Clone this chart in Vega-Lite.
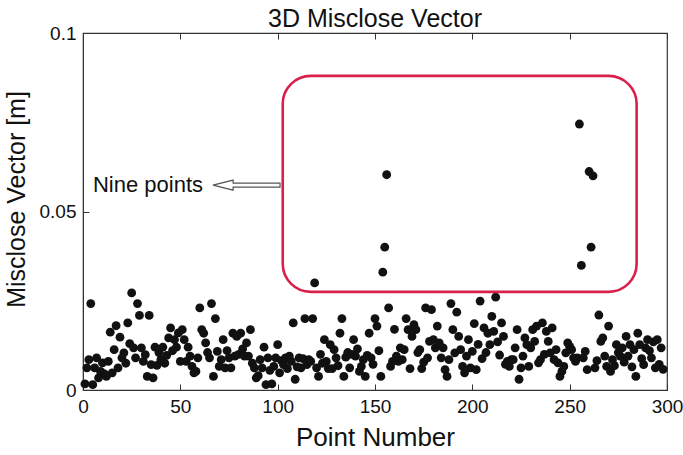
{
  "$schema": "https://vega.github.io/schema/vega-lite/v6.json",
  "width": 584,
  "height": 357,
  "autosize": "none",
  "padding": {"left": 83, "top": 33, "right": 16, "bottom": 65},
  "background": "white",
  "config": {
    "font": "Liberation Sans",
    "view": {"stroke": "#333", "strokeWidth": 1.2},
    "axis": {"grid": false, "domainColor": "#333", "tickColor": "#333", "labelColor": "#111", "titleColor": "#111", "labelFont": "Liberation Sans", "titleFont": "Liberation Sans", "titleFontWeight": "normal"}
  },
  "title": {"text": "3D Misclose Vector", "fontSize": 25, "fontWeight": "normal", "font": "Liberation Sans", "color": "#111", "anchor": "middle", "offset": -8},
  "datasets": {
    "pts": [
      {"pt":1,"mv":0.0017},{"pt":2,"mv":0.0062},{"pt":3,"mv":0.0085},{"pt":4,"mv":0.0242},{"pt":5,"mv":0.0015},{"pt":6,"mv":0.0062},{"pt":7,"mv":0.009},{"pt":8,"mv":0.0034},{"pt":9,"mv":0.0052},{"pt":10,"mv":0.0076},
      {"pt":11,"mv":0.0045},{"pt":12,"mv":0.0038},{"pt":13,"mv":0.008},{"pt":14,"mv":0.0162},{"pt":15,"mv":0.0048},{"pt":16,"mv":0.0113},{"pt":17,"mv":0.018},{"pt":18,"mv":0.0062},{"pt":19,"mv":0.0148},{"pt":20,"mv":0.009},
      {"pt":21,"mv":0.0104},{"pt":22,"mv":0.0075},{"pt":23,"mv":0.0188},{"pt":24,"mv":0.013},{"pt":25,"mv":0.0272},{"pt":26,"mv":0.0118},{"pt":27,"mv":0.009},{"pt":28,"mv":0.0242},{"pt":29,"mv":0.0209},{"pt":30,"mv":0.0118},
      {"pt":31,"mv":0.008},{"pt":32,"mv":0.0099},{"pt":33,"mv":0.0038},{"pt":34,"mv":0.0209},{"pt":35,"mv":0.0071},{"pt":36,"mv":0.0034},{"pt":37,"mv":0.012},{"pt":38,"mv":0.0069},{"pt":39,"mv":0.0105},{"pt":40,"mv":0.0085},
      {"pt":41,"mv":0.012},{"pt":42,"mv":0.0075},{"pt":43,"mv":0.0097},{"pt":44,"mv":0.0146},{"pt":45,"mv":0.0174},{"pt":46,"mv":0.011},{"pt":47,"mv":0.0141},{"pt":48,"mv":0.012},{"pt":49,"mv":0.016},{"pt":50,"mv":0.008},
      {"pt":51,"mv":0.0169},{"pt":52,"mv":0.0141},{"pt":53,"mv":0.008},{"pt":54,"mv":0.012},{"pt":55,"mv":0.0095},{"pt":56,"mv":0.0066},{"pt":57,"mv":0.0048},{"pt":58,"mv":0.0052},{"pt":59,"mv":0.009},{"pt":60,"mv":0.023},
      {"pt":61,"mv":0.0169},{"pt":62,"mv":0.0159},{"pt":63,"mv":0.0132},{"pt":64,"mv":0.0105},{"pt":65,"mv":0.009},{"pt":66,"mv":0.0242},{"pt":67,"mv":0.0038},{"pt":68,"mv":0.02},{"pt":69,"mv":0.0108},{"pt":70,"mv":0.0066},
      {"pt":71,"mv":0.0085},{"pt":72,"mv":0.0141},{"pt":73,"mv":0.0062},{"pt":74,"mv":0.011},{"pt":75,"mv":0.009},{"pt":76,"mv":0.0062},{"pt":77,"mv":0.0159},{"pt":78,"mv":0.0095},{"pt":79,"mv":0.015},{"pt":80,"mv":0.01},
      {"pt":81,"mv":0.0159},{"pt":82,"mv":0.0115},{"pt":83,"mv":0.0095},{"pt":84,"mv":0.0132},{"pt":85,"mv":0.0095},{"pt":86,"mv":0.0169},{"pt":87,"mv":0.0075},{"pt":88,"mv":0.0062},{"pt":89,"mv":0.0034},{"pt":90,"mv":0.004},
      {"pt":91,"mv":0.0085},{"pt":92,"mv":0.0062},{"pt":93,"mv":0.012},{"pt":94,"mv":0.0015},{"pt":95,"mv":0.009},{"pt":96,"mv":0.0055},{"pt":97,"mv":0.0017},{"pt":98,"mv":0.0066},{"pt":99,"mv":0.009},{"pt":100,"mv":0.0127},
      {"pt":101,"mv":0.0048},{"pt":102,"mv":0.0082},{"pt":103,"mv":0.0071},{"pt":104,"mv":0.009},{"pt":105,"mv":0.006},{"pt":106,"mv":0.0095},{"pt":107,"mv":0.008},{"pt":108,"mv":0.0188},{"pt":109,"mv":0.003},{"pt":110,"mv":0.0065},
      {"pt":111,"mv":0.009},{"pt":112,"mv":0.0062},{"pt":113,"mv":0.0088},{"pt":114,"mv":0.02},{"pt":115,"mv":0.0071},{"pt":116,"mv":0.0085},{"pt":117,"mv":0.008},{"pt":118,"mv":0.02},{"pt":119,"mv":0.030},{"pt":120,"mv":0.0062},
      {"pt":121,"mv":0.0038},{"pt":122,"mv":0.01},{"pt":123,"mv":0.0075},{"pt":124,"mv":0.0141},{"pt":125,"mv":0.008},{"pt":126,"mv":0.006},{"pt":127,"mv":0.0127},{"pt":128,"mv":0.006},{"pt":129,"mv":0.0113},{"pt":130,"mv":0.009},
      {"pt":131,"mv":0.0068},{"pt":132,"mv":0.0159},{"pt":133,"mv":0.02},{"pt":134,"mv":0.0038},{"pt":135,"mv":0.0092},{"pt":136,"mv":0.0105},{"pt":137,"mv":0.0062},{"pt":138,"mv":0.01},{"pt":139,"mv":0.0141},{"pt":140,"mv":0.0095},
      {"pt":141,"mv":0.0115},{"pt":142,"mv":0.0052},{"pt":143,"mv":0.0066},{"pt":144,"mv":0.0085},{"pt":145,"mv":0.0038},{"pt":146,"mv":0.0097},{"pt":147,"mv":0.0159},{"pt":148,"mv":0.009},{"pt":149,"mv":0.0072},{"pt":150,"mv":0.02},
      {"pt":151,"mv":0.0179},{"pt":152,"mv":0.011},{"pt":153,"mv":0.0038},{"pt":154,"mv":0.033},{"pt":155,"mv":0.040},{"pt":156,"mv":0.0603},{"pt":157,"mv":0.023},{"pt":158,"mv":0.0066},{"pt":159,"mv":0.008},{"pt":160,"mv":0.017},
      {"pt":161,"mv":0.0095},{"pt":162,"mv":0.008},{"pt":163,"mv":0.0118},{"pt":164,"mv":0.0085},{"pt":165,"mv":0.0113},{"pt":166,"mv":0.02},{"pt":167,"mv":0.0169},{"pt":168,"mv":0.006},{"pt":169,"mv":0.015},{"pt":170,"mv":0.0183},
      {"pt":171,"mv":0.0169},{"pt":172,"mv":0.0105},{"pt":173,"mv":0.0113},{"pt":174,"mv":0.006},{"pt":175,"mv":0.0078},{"pt":176,"mv":0.023},{"pt":177,"mv":0.009},{"pt":178,"mv":0.0136},{"pt":179,"mv":0.0225},{"pt":180,"mv":0.0141},
      {"pt":181,"mv":0.0118},{"pt":182,"mv":0.0179},{"pt":183,"mv":0.0132},{"pt":184,"mv":0.009},{"pt":185,"mv":0.0118},{"pt":186,"mv":0.0057},{"pt":187,"mv":0.0038},{"pt":188,"mv":0.0085},{"pt":189,"mv":0.0242},{"pt":190,"mv":0.0169},
      {"pt":191,"mv":0.0104},{"pt":192,"mv":0.0218},{"pt":193,"mv":0.015},{"pt":194,"mv":0.0113},{"pt":195,"mv":0.0066},{"pt":196,"mv":0.0048},{"pt":197,"mv":0.0095},{"pt":198,"mv":0.0141},{"pt":199,"mv":0.0062},{"pt":200,"mv":0.0108},
      {"pt":201,"mv":0.0186},{"pt":202,"mv":0.0057},{"pt":203,"mv":0.0128},{"pt":204,"mv":0.0249},{"pt":205,"mv":0.0088},{"pt":206,"mv":0.0174},{"pt":207,"mv":0.0105},{"pt":208,"mv":0.0159},{"pt":209,"mv":0.0127},{"pt":210,"mv":0.0206},
      {"pt":211,"mv":0.0164},{"pt":212,"mv":0.026},{"pt":213,"mv":0.0135},{"pt":214,"mv":0.0098},{"pt":215,"mv":0.0188},{"pt":216,"mv":0.015},{"pt":217,"mv":0.0072},{"pt":218,"mv":0.008},{"pt":219,"mv":0.0066},{"pt":220,"mv":0.0085},
      {"pt":221,"mv":0.0085},{"pt":222,"mv":0.0118},{"pt":223,"mv":0.0169},{"pt":224,"mv":0.003},{"pt":225,"mv":0.0062},{"pt":226,"mv":0.0095},{"pt":227,"mv":0.0146},{"pt":228,"mv":0.0127},{"pt":229,"mv":0.0066},{"pt":230,"mv":0.0118},
      {"pt":231,"mv":0.0169},{"pt":232,"mv":0.0136},{"pt":233,"mv":0.0179},{"pt":234,"mv":0.0076},{"pt":235,"mv":0.0085},{"pt":236,"mv":0.0188},{"pt":237,"mv":0.01},{"pt":238,"mv":0.0164},{"pt":239,"mv":0.0136},{"pt":240,"mv":0.0104},
      {"pt":241,"mv":0.0174},{"pt":242,"mv":0.0085},{"pt":243,"mv":0.0113},{"pt":244,"mv":0.0076},{"pt":245,"mv":0.0038},{"pt":246,"mv":0.0052},{"pt":247,"mv":0.0066},{"pt":248,"mv":0.0104},{"pt":249,"mv":0.0132},{"pt":250,"mv":0.0122},
      {"pt":251,"mv":0.0113},{"pt":252,"mv":0.009},{"pt":253,"mv":0.008},{"pt":254,"mv":0.009},{"pt":255,"mv":0.0745},{"pt":256,"mv":0.0349},{"pt":257,"mv":0.009},{"pt":258,"mv":0.0108},{"pt":259,"mv":0.0057},{"pt":260,"mv":0.0612},
      {"pt":261,"mv":0.040},{"pt":262,"mv":0.0600},{"pt":263,"mv":0.0062},{"pt":264,"mv":0.0082},{"pt":265,"mv":0.021},{"pt":266,"mv":0.0136},{"pt":267,"mv":0.0146},{"pt":268,"mv":0.0095},{"pt":269,"mv":0.0066},{"pt":270,"mv":0.0179},
      {"pt":271,"mv":0.0052},{"pt":272,"mv":0.0085},{"pt":273,"mv":0.0068},{"pt":274,"mv":0.0127},{"pt":275,"mv":0.0105},{"pt":276,"mv":0.0095},{"pt":277,"mv":0.0118},{"pt":278,"mv":0.0078},{"pt":279,"mv":0.015},{"pt":280,"mv":0.0095},
      {"pt":281,"mv":0.0127},{"pt":282,"mv":0.0065},{"pt":283,"mv":0.0113},{"pt":284,"mv":0.0038},{"pt":285,"mv":0.0159},{"pt":286,"mv":0.0127},{"pt":287,"mv":0.0088},{"pt":288,"mv":0.0071},{"pt":289,"mv":0.0118},{"pt":290,"mv":0.0141},
      {"pt":291,"mv":0.011},{"pt":292,"mv":0.009},{"pt":293,"mv":0.0135},{"pt":294,"mv":0.0062},{"pt":295,"mv":0.0141},{"pt":296,"mv":0.0072},{"pt":297,"mv":0.0118},{"pt":298,"mv":0.0058}
    ]
  },
  "layer": [
    {
      "data": {"name": "pts"},
      "mark": {"type": "point", "shape": "circle", "filled": true, "size": 78, "color": "#111", "opacity": 1},
      "encoding": {
        "x": {"field": "pt", "type": "quantitative", "scale": {"domain": [0, 300], "nice": false, "zero": false},
          "axis": {"orient": "bottom", "title": "Point Number", "titleFontSize": 26, "titlePadding": 8, "values": [0, 50, 100, 150, 200, 250, 300], "format": "d", "labelFontSize": 19, "tickSize": -6, "labelPadding": 13, "domain": true, "labelFlush": false}},
        "y": {"field": "mv", "type": "quantitative", "scale": {"domain": [0, 0.1], "nice": false},
          "axis": {"title": "Misclose Vector [m]", "titleFontSize": 25, "titleY": 166, "values": [0, 0.05, 0.1], "format": "~g", "labelFontSize": 19, "tickSize": -6, "labelPadding": 13, "titlePadding": 10, "labelFlush": false}}
      }
    },
    {
      "data": {"values": [{"pt": 102.6, "pt2": 284.4, "mv": 0.0275, "mv2": 0.088}]},
      "mark": {"type": "rect", "fillOpacity": 0, "stroke": "#d9204b", "strokeWidth": 2.6, "cornerRadius": 28},
      "encoding": {
        "x": {"field": "pt", "type": "quantitative", "scale": {"domain": [0, 300], "nice": false, "zero": false},
          "axis": {"orient": "top", "title": null, "labels": false, "domain": false, "values": [0, 50, 100, 150, 200, 250, 300], "tickSize": -6}},
        "x2": {"field": "pt2"},
        "y": {"field": "mv", "type": "quantitative"},
        "y2": {"field": "mv2"}
      }
    },
    {
      "data": {"values": [{"pt": 84.0, "mv": 0.0574}]},
      "mark": {"type": "point", "shape": "M -1 0 L -0.4 -0.15 L -0.4 -0.06 L 1 -0.06 L 1 0.06 L -0.4 0.06 L -0.4 0.15 Z", "size": 4489, "filled": false, "stroke": "#555", "strokeWidth": 1.2, "opacity": 1},
      "encoding": {
        "x": {"field": "pt", "type": "quantitative", "axis": null},
        "y": {"field": "mv", "type": "quantitative"}
      }
    },
    {
      "data": {"values": [{"pt": 5.1, "mv": 0.0574, "label": "Nine points"}]},
      "mark": {"type": "text", "align": "left", "baseline": "middle", "fontSize": 22, "font": "Liberation Sans", "color": "#111"},
      "encoding": {
        "x": {"field": "pt", "type": "quantitative", "axis": null},
        "y": {"field": "mv", "type": "quantitative"},
        "text": {"field": "label"}
      }
    }
  ],
  "resolve": {"axis": {"x": "independent"}}
}
